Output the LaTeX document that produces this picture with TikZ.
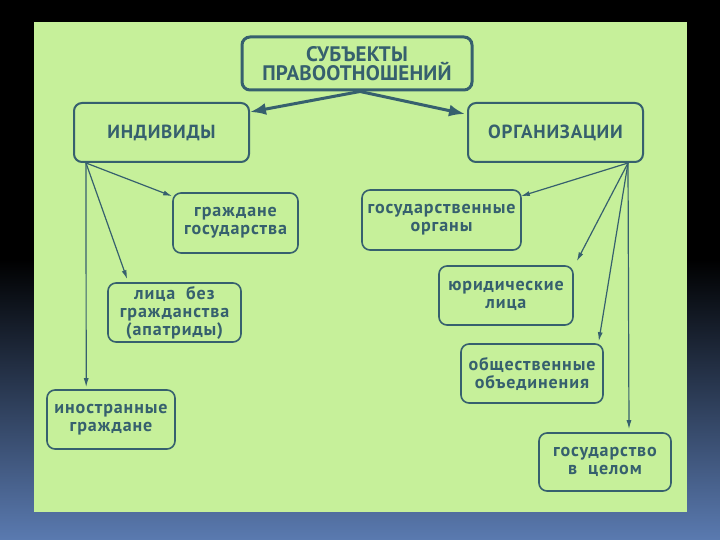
\documentclass[tikz,border=0pt]{standalone}
\usepackage{fontspec}
\setmainfont{PT Sans}
\usetikzlibrary{arrows.meta}
\definecolor{slidegreen}{HTML}{C6F09A}
\definecolor{ink}{HTML}{36606E}
\definecolor{bgblue}{HTML}{5A7AB0}
\tikzset{
  box/.style={draw=ink, line width=1.6pt, rounded corners=8pt, inner sep=0pt,
    align=center, text=ink, font=\bfseries\fontsize{18}{18}\selectfont\addfontfeature{LetterSpace=5}},
  bigbox/.style={box, line width=3pt, font=\bfseries\fontsize{21}{18}\selectfont\addfontfeature{LetterSpace=1}},
  midbox/.style={box, line width=2pt, font=\bfseries\fontsize{19}{19}\selectfont\addfontfeature{LetterSpace=4}},
  bigarrow/.style={draw=ink, line width=3pt, -{Latex[length=16pt,width=12pt]}},
  thinarrow/.style={draw=ink, line width=1.2pt, -{Latex[length=9pt,width=5pt]}}
}
\begin{document}
\begin{tikzpicture}[x=1pt,y=-1pt]
\useasboundingbox (0,0) rectangle (720,540);
\fill[black] (0,0) rectangle (720,260);
\shade[top color=black, bottom color=bgblue] (0,259) rectangle (720,540);
\fill[slidegreen] (34,22) rectangle (687,512);

\node[bigbox, minimum width=230pt, minimum height=53pt] (top) at (357,63.5)
  {СУБЪЕКТЫ\\ПРАВООТНОШЕНИЙ};
\node[midbox, minimum width=175pt, minimum height=59pt] (ind) at (161.5,132.5) {ИНДИВИДЫ};
\node[midbox, minimum width=175pt, minimum height=59pt] (org) at (555.5,132.5) {ОРГАНИЗАЦИИ};

\node[box, minimum width=125pt, minimum height=60pt] (grazh) at (235.5,223) {граждане\\государства};
\node[box, minimum width=133pt, minimum height=59pt] (lica) at (174.5,312.5) {лица \ без\\гражданства\\(апатриды)};
\node[box, minimum width=128pt, minimum height=59pt] (inostr) at (111,419.5) {иностранные\\граждане};

\node[box, minimum width=159pt, minimum height=60pt] (gosorg) at (441.5,220) {государственные\\органы};
\node[box, minimum width=134pt, minimum height=59pt] (yur) at (506,295.5) {юридические\\лица};
\node[box, minimum width=142pt, minimum height=59pt] (obsh) at (532,373.5) {общественные\\объединения};
\node[box, minimum width=132pt, minimum height=58pt] (gosvc) at (605,462) {государство\\в \ целом};

\draw[bigarrow] ([xshift=3pt]top.south) -- ([yshift=-10pt]ind.north east);
\draw[bigarrow] ([xshift=3pt]top.south) -- ([xshift=-2pt,yshift=-12pt]org.north west);

\draw[thinarrow] ([xshift=13pt]ind.south west) -- ([yshift=-4pt]grazh.north west);
\draw[thinarrow] ([xshift=13pt]ind.south west) -- ([xshift=20pt,yshift=3pt]lica.north west);
\draw[thinarrow] ([xshift=13pt]ind.south west) -- ([xshift=40pt,yshift=2pt]inostr.north west);

\draw[thinarrow] ([xshift=-16pt]org.south east) -- ([xshift=-1pt,yshift=-7pt]gosorg.north east);
\draw[thinarrow] ([xshift=-16pt]org.south east) -- ([xshift=3pt,yshift=4pt]yur.north east);
\draw[thinarrow] ([xshift=-16pt]org.south east) -- ([xshift=-5pt,yshift=2pt]obsh.north east);
\draw[thinarrow] ([xshift=-16pt]org.south east) -- ([xshift=24pt,yshift=3pt]gosvc.north);
\end{tikzpicture}
\end{document}
